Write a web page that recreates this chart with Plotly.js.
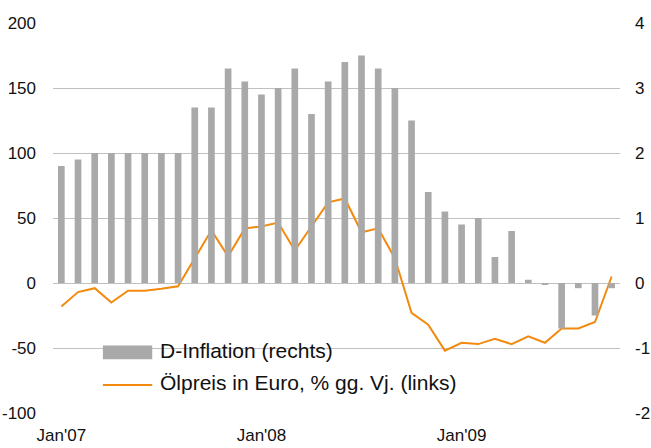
<!DOCTYPE html>
<html>
<head>
<meta charset="utf-8">
<script src="https://cdn.plot.ly/plotly-3.0.1.min.js"></script>
<style>
  html, body { margin: 0; padding: 0; background: #ffffff; }
  #chart { width: 651px; height: 448px; }
</style>
</head>
<body>
<div id="chart"></div>
<script>
var months =
[
    '2007-01', '2007-02', '2007-03', '2007-04', '2007-05', '2007-06',
    '2007-07', '2007-08', '2007-09', '2007-10', '2007-11', '2007-12',
    '2008-01', '2008-02', '2008-03', '2008-04', '2008-05', '2008-06',
    '2008-07', '2008-08', '2008-09', '2008-10', '2008-11', '2008-12',
    '2009-01', '2009-02', '2009-03', '2009-04', '2009-05', '2009-06',
    '2009-07', '2009-08', '2009-09', '2009-10'
];

// D-Inflation, % (right axis)
var inflation =
[
    1.8, 1.9, 2.0, 2.0, 2.0, 2.0, 2.0, 2.0, 2.7, 2.7, 3.3, 3.1,
    2.9, 3.0, 3.3, 2.6, 3.1, 3.4, 3.5, 3.3, 3.0, 2.5, 1.4, 1.1,
    0.9, 1.0, 0.4, 0.8, 0.05, -0.03, -0.7, -0.08, -0.5, -0.08
];

// Oelpreis in Euro, % gg. Vj. (left axis)
var oil =
[
    -18, -7, -4, -15, -6, -6, -4.5, -2.5, 19, 40.5, 20.5, 42,
    43.5, 46.5, 25, 43.5, 62, 65, 39, 42, 19, -23, -32, -52,
    -46, -47, -43, -47, -41, -46, -35, -35, -30, 5
];

var tick_months = [ '2007-01', '2008-01', '2009-01' ];
var tick_labels = [ "Jan'07", "Jan'08", "Jan'09" ];

var left_ticks = [ -100, -50, 0, 50, 100, 150, 200 ];
var left_labels = [ '-100', '-50', '0', '50', '100', '150', '200' ];
var right_ticks = [ -2, -1, 0, 1, 2, 3, 4 ];
var right_labels = [ '-2', '-1', '0', '1', '2', '3', '4' ];

var legend_names = [ 'D-Inflation (rechts)', 'Ölpreis in Euro, % gg. Vj. (links)' ];

var BAR_COLOR = '#a9a9a9';
var LINE_COLOR = '#f28a0f';
var GRID_COLOR = '#c0c0c0';
var FONT = 'Liberation Sans, Arial, sans-serif';

var data =
[
    {
        type: 'bar',
        x: months,
        y: inflation,
        yaxis: 'y2',
        width: 0.4,
        marker: { color: BAR_COLOR },
        name: legend_names[ 0 ],
        hoverinfo: 'skip'
    },
    {
        type: 'scatter',
        mode: 'lines',
        x: months,
        y: oil,
        line: { color: LINE_COLOR, width: 2 },
        name: legend_names[ 1 ],
        hoverinfo: 'skip'
    }
];

var layout =
{
    width: 651,
    height: 448,
    paper_bgcolor: '#ffffff',
    plot_bgcolor: '#ffffff',
    showlegend: false,
    margin: { l: 53, r: 31, t: 23, b: 35 },
    font: { family: FONT, size: 17, color: '#111111' },
    xaxis:
    {
        type: 'category',
        range: [ -0.5, months.length - 0.5 ],
        tickmode: 'array',
        tickvals: tick_months,
        ticktext: tick_labels,
        ticks: '',
        ticklabelstandoff: 10,
        showgrid: false,
        zeroline: false,
        showline: false
    },
    yaxis:
    {
        range: [ -100, 200 ],
        tickmode: 'array',
        tickvals: left_ticks,
        ticktext: left_labels,
        showgrid: true,
        gridcolor: GRID_COLOR,
        gridwidth: 1,
        zeroline: false,
        showline: false,
        ticks: '',
        ticklabelstandoff: 16
    },
    yaxis2:
    {
        overlaying: 'y',
        side: 'right',
        range: [ -2, 4 ],
        tickmode: 'array',
        tickvals: right_ticks,
        ticktext: right_labels,
        showgrid: false,
        zeroline: false,
        showline: false,
        ticks: '',
        ticklabelstandoff: 14
    },
    shapes:
    [
        {
            type: 'rect',
            xref: 'paper',
            yref: 'paper',
            x0: 0.047,
            x1: 0.753,
            y0: 0.04,
            y1: 0.19,
            layer: 'between',
            fillcolor: '#ffffff',
            line: { width: 0 }
        },
        {
            type: 'rect',
            xref: 'paper',
            yref: 'paper',
            x0: 0.088,
            x1: 0.175,
            y0: 0.138,
            y1: 0.173,
            fillcolor: BAR_COLOR,
            line: { width: 0 }
        },
        {
            type: 'line',
            xref: 'paper',
            yref: 'paper',
            x0: 0.088,
            x1: 0.175,
            y0: 0.072,
            y1: 0.072,
            line: { color: LINE_COLOR, width: 2 }
        }
    ],
    annotations:
    [
        {
            xref: 'paper',
            yref: 'paper',
            x: 0.185,
            y: 0.160,
            xanchor: 'left',
            yanchor: 'middle',
            showarrow: false,
            text: legend_names[ 0 ],
            font: { family: FONT, size: 21, color: '#111111' }
        },
        {
            xref: 'paper',
            yref: 'paper',
            x: 0.185,
            y: 0.077,
            xanchor: 'left',
            yanchor: 'middle',
            showarrow: false,
            text: legend_names[ 1 ],
            font: { family: FONT, size: 21, color: '#111111' }
        }
    ]
};

var config = { staticPlot: true, responsive: false };

Plotly.newPlot( document.getElementById( 'chart' ), data, layout, config );
</script>
</body>
</html>
